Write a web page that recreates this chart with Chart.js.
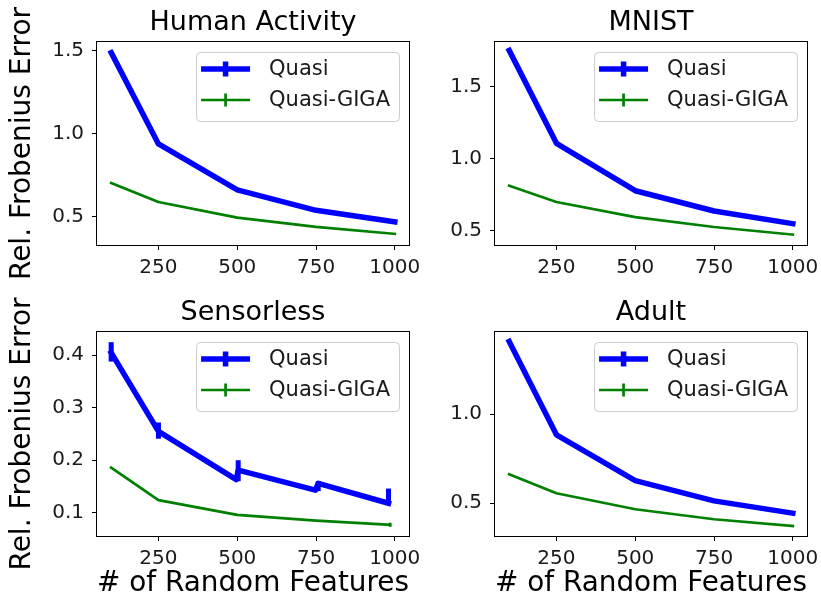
<!DOCTYPE html>
<html><head><meta charset="utf-8">
<script src="https://cdn.jsdelivr.net/npm/chart.js@4"></script>
<style>
html,body{margin:0;padding:0;background:#fff;overflow:hidden;width:821px;height:601px;}
canvas{position:absolute;}
</style></head><body>
<canvas id="c1" width="430" height="290" style="left:0;top:0"></canvas>
<canvas id="c3" width="430" height="311" style="left:0;top:290px"></canvas>
<canvas id="c2" width="411" height="290" style="left:410px;top:0"></canvas>
<canvas id="c4" width="411" height="311" style="left:410px;top:290px"></canvas>
<script>
// ---- data ----
const xFeatures = [100, 250, 500, 750, 1000];
const xTickValues = [250, 500, 750, 1000];
const xLimits = [55, 1045];

const humanQuasi = [1.49, 0.94, 0.663, 0.54, 0.47];
const humanGiga = [0.705, 0.59, 0.496, 0.44, 0.398];
const humanYLimits = [0.331, 1.554];
const humanYTicks = [0.5, 1.0, 1.5];

const mnistQuasi = [1.75, 1.104, 0.775, 0.634, 0.546];
const mnistGiga = [0.81, 0.697, 0.592, 0.523, 0.47];
const mnistYLimits = [0.398, 1.808];
const mnistYTicks = [0.5, 1.0, 1.5];

const sensorlessQuasiX = [100, 250, 497, 503, 748, 757, 980];
const sensorlessQuasi = [0.405, 0.255, 0.163, 0.181, 0.143, 0.156, 0.118];
const sensorlessQuasiErrX = [100, 250, 503, 757, 980];
const sensorlessQuasiErrLow = [0.388, 0.241, 0.160, 0.141, 0.117];
const sensorlessQuasiErrHigh = [0.425, 0.272, 0.200, 0.160, 0.146];
const sensorlessGigaX = [100, 250, 500, 750, 985];
const sensorlessGiga = [0.186, 0.124, 0.096, 0.085, 0.077];
const sensorlessGigaErrX = [985];
const sensorlessGigaErrLow = [0.073];
const sensorlessGigaErrHigh = [0.081];
const sensorlessYLimits = [0.0556, 0.4444];
const sensorlessYTicks = [0.1, 0.2, 0.3, 0.4];

const adultQuasi = [1.408, 0.884, 0.627, 0.513, 0.444];
const adultGiga = [0.663, 0.556, 0.466, 0.41, 0.372];
const adultYLimits = [0.316, 1.461];
const adultYTicks = [0.5, 1.0];

const seriesLabels = ['Quasi', 'Quasi-GIGA'];
const yAxisTitle = 'Rel. Frobenius Error';
const xAxisTitle = '# of Random Features';

// ---- styling ----
const FONT = "'DejaVu Sans', sans-serif";
const BLUE = '#0000ff', GREEN = '#008000';
const TXT = '#1a1a1a';

const framePlugin = {
  id: 'frame',
  afterDatasetsDraw(chart) {
    const {ctx, chartArea: a} = chart;
    ctx.save();
    ctx.strokeStyle = '#000';
    ctx.lineWidth = 1;
    ctx.strokeRect(Math.round(a.left) - 0.5, Math.round(a.top) - 0.5,
                   Math.round(a.right - a.left) + 1, Math.round(a.bottom - a.top) + 1);
    ctx.restore();
  }
};

function titlePlugin(text) {
  return {
    id: 'axtitle',
    afterDraw(chart) {
      const {ctx, chartArea: a} = chart;
      ctx.save();
      ctx.font = '27px ' + FONT;
      ctx.fillStyle = '#000';
      ctx.textAlign = 'center';
      ctx.textBaseline = 'alphabetic';
      ctx.fillText(text, (a.left + a.right) / 2, a.top - 12);
      ctx.restore();
    }
  };
}

function errPlugin(specs) {
  return {
    id: 'errbars',
    afterDatasetsDraw(chart) {
      const {ctx, scales: {x, y}} = chart;
      ctx.save();
      specs.forEach(s => {
        ctx.strokeStyle = s.color;
        ctx.lineWidth = s.width;
        ctx.lineCap = 'butt';
        s.xs.forEach((xv, i) => {
          const px = x.getPixelForValue(xv);
          ctx.beginPath();
          ctx.moveTo(px, y.getPixelForValue(s.low[i]));
          ctx.lineTo(px, y.getPixelForValue(s.high[i]));
          ctx.stroke();
        });
      });
      ctx.restore();
    }
  };
}

const legendPlugin = {
  id: 'boxlegend',
  afterDraw(chart) {
    const {ctx, chartArea: a} = chart;
    const ds = chart.data.datasets;
    ctx.save();
    ctx.font = '21px ' + FONT;
    const tw = Math.max(...ds.map(d => ctx.measureText(d.label).width));
    const w = 5 + 49 + 19 + tw + 9, h = 69;
    const right = a.right - 10, top = a.top + 10, left = right - w;
    ctx.beginPath();
    ctx.roundRect(left + 0.5, top + 0.5, w, h, 4);
    ctx.fillStyle = 'rgba(255,255,255,0.8)';
    ctx.fill();
    ctx.strokeStyle = '#cccccc';
    ctx.lineWidth = 1;
    ctx.stroke();
    ds.forEach((d, i) => {
      const cy = top + 17 + i * 31;
      const x0 = left + 5, x1 = x0 + 49, cx = (x0 + x1) / 2;
      ctx.strokeStyle = d.borderColor;
      ctx.lineWidth = d.borderWidth;
      ctx.lineCap = 'butt';
      ctx.beginPath(); ctx.moveTo(x0, cy); ctx.lineTo(x1, cy); ctx.stroke();
      const vh = i === 0 ? 15 : 13;
      ctx.beginPath(); ctx.moveTo(cx, cy - vh / 2); ctx.lineTo(cx, cy + vh / 2); ctx.stroke();
      ctx.fillStyle = TXT;
      ctx.textBaseline = 'middle';
      ctx.textAlign = 'left';
      ctx.fillText(d.label, x1 + 19, cy + 1);
    });
    ctx.restore();
  }
};

function pts(xs, ys) { return xs.map((x, i) => ({x: x, y: ys[i]})); }

function makeChart(id, cfg) {
  const tickFont = {family: FONT, size: 20};
  return new Chart(document.getElementById(id), {
    type: 'line',
    data: {
      datasets: [
        {label: seriesLabels[0], data: pts(cfg.qx, cfg.qy), borderColor: BLUE, backgroundColor: BLUE,
         borderWidth: 5.5, pointRadius: 0, tension: 0, borderJoinStyle: 'round', borderCapStyle: 'square', fill: false},
        {label: seriesLabels[1], data: pts(cfg.gx, cfg.gy), borderColor: GREEN, backgroundColor: GREEN,
         borderWidth: 2.7, pointRadius: 0, tension: 0, borderJoinStyle: 'round', borderCapStyle: 'square', fill: false}
      ]
    },
    options: {
      responsive: false, animation: false, events: [],
      layout: {padding: {left: 0, right: cfg.padRight, top: 42, bottom: 0}},
      plugins: {
        legend: {display: false}, tooltip: {enabled: false}, title: {display: false}
      },
      scales: {
        x: {
          type: 'linear', min: xLimits[0], max: xLimits[1],
          afterBuildTicks: s => { s.ticks = xTickValues.map(v => ({value: v})); },
          afterFit: s => { s.height = cfg.xHeight; s.paddingLeft = 0; s.paddingRight = 0; },
          ticks: {font: tickFont, color: TXT, padding: 6, maxRotation: 0, autoSkip: false, callback: v => String(v)},
          grid: {display: true, drawOnChartArea: false, drawTicks: true, tickLength: 5, color: '#000', lineWidth: 1},
          border: {display: false},
          title: {display: cfg.xTitle, text: xAxisTitle, color: '#000',
                  font: {family: FONT, size: 28}, padding: {top: 0, bottom: 0}}
        },
        y: {
          type: 'linear', min: cfg.ylim[0], max: cfg.ylim[1],
          afterBuildTicks: s => { s.ticks = cfg.yticks.map(v => ({value: v})); },
          afterFit: s => { s.width = cfg.yWidth; s.paddingTop = 0; s.paddingBottom = 0; },
          ticks: {font: tickFont, color: TXT, padding: 8, autoSkip: false, callback: v => v.toFixed(1)},
          grid: {display: true, drawOnChartArea: false, drawTicks: true, tickLength: 5, color: '#000', lineWidth: 1},
          border: {display: false},
          title: {display: cfg.yTitle, text: yAxisTitle, color: '#000',
                  font: {family: FONT, size: 28}, padding: {top: 6, bottom: 0}}
        }
      }
    },
    plugins: [framePlugin, errPlugin(cfg.err || []), legendPlugin, titlePlugin(cfg.title)]
  });
}

makeChart('c1', {title: 'Human Activity', qx: xFeatures, qy: humanQuasi, gx: xFeatures, gy: humanGiga,
  ylim: humanYLimits, yticks: humanYTicks, padRight: 21, yWidth: 97, xHeight: 45, xTitle: false, yTitle: true});
makeChart('c2', {title: 'MNIST', qx: xFeatures, qy: mnistQuasi, gx: xFeatures, gy: mnistGiga,
  ylim: mnistYLimits, yticks: mnistYTicks, padRight: 14, yWidth: 85, xHeight: 45, xTitle: false, yTitle: false});
makeChart('c3', {title: 'Sensorless', qx: sensorlessQuasiX, qy: sensorlessQuasi, gx: sensorlessGigaX, gy: sensorlessGiga,
  ylim: sensorlessYLimits, yticks: sensorlessYTicks, padRight: 21, yWidth: 97, xHeight: 65, xTitle: true, yTitle: true,
  err: [
    {xs: sensorlessQuasiErrX, low: sensorlessQuasiErrLow, high: sensorlessQuasiErrHigh, color: BLUE, width: 5},
    {xs: sensorlessGigaErrX, low: sensorlessGigaErrLow, high: sensorlessGigaErrHigh, color: GREEN, width: 2.7}
  ]});
makeChart('c4', {title: 'Adult', qx: xFeatures, qy: adultQuasi, gx: xFeatures, gy: adultGiga,
  ylim: adultYLimits, yticks: adultYTicks, padRight: 14, yWidth: 85, xHeight: 65, xTitle: true, yTitle: false});
</script>
</body></html>
